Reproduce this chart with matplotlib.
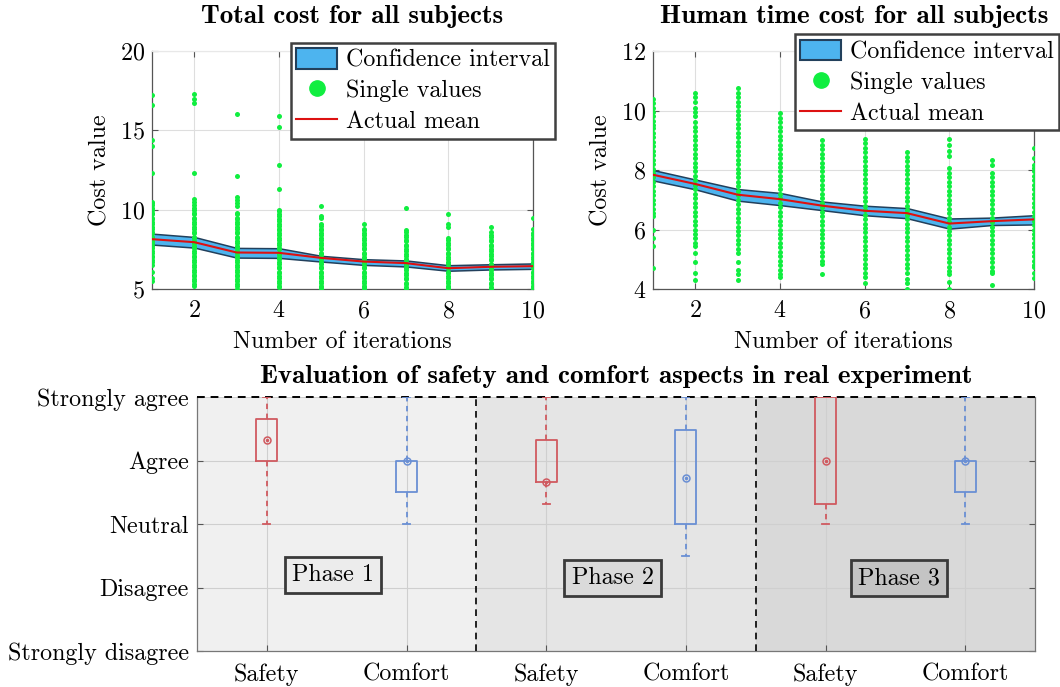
import matplotlib
matplotlib.use("Agg")
import matplotlib.pyplot as plt
from matplotlib.patches import Patch
from matplotlib.lines import Line2D

plt.rcParams['font.family'] = ['cmr10', 'DejaVu Sans']
plt.rcParams['axes.formatter.use_mathtext'] = True
plt.rcParams['mathtext.fontset'] = 'cm'

# ---------------- data ----------------
iterations = [1, 2, 3, 4, 5, 6, 7, 8, 9, 10]

total_mean = [8.14, 7.95, 7.30, 7.28, 6.96, 6.73, 6.63, 6.31, 6.40, 6.44]
total_upper = [8.49, 8.28, 7.59, 7.57, 7.09, 6.88, 6.80, 6.50, 6.56, 6.61]
total_lower = [7.80, 7.61, 6.98, 6.96, 6.73, 6.52, 6.42, 6.15, 6.23, 6.27]

total_values = [
    [17.2, 16.6, 14.4, 14.0, 12.3, 10.5, 10.4, 10.3, 10.1, 10.0, 9.8, 9.7, 9.5, 9.4, 9.2, 9.1, 8.9, 8.8,
     8.6, 8.5, 8.3, 8.2, 8.0, 7.9, 7.7, 7.6, 7.4, 7.3, 7.1, 7.0, 6.8, 6.7, 6.5, 6.1, 5.7, 5.5],
    [17.3, 17.0, 16.7, 12.3, 10.7, 10.5, 10.3, 10.1, 10.0, 9.8, 9.7, 9.5, 9.4, 9.2, 9.1, 8.9, 8.8, 8.6,
     8.5, 8.3, 8.2, 8.0, 7.9, 7.7, 7.6, 7.4, 7.3, 7.1, 7.0, 6.8, 6.7, 6.5, 6.4, 6.2, 6.1, 5.9, 5.8, 5.6,
     5.5, 5.3, 5.2],
    [16.0, 12.1, 10.8, 10.6, 10.4, 10.2, 9.8, 9.7, 9.5, 9.4, 9.2, 9.1, 8.9, 8.8, 8.6, 8.5, 8.3, 8.2, 8.0,
     7.9, 7.7, 7.6, 7.4, 7.3, 7.1, 7.0, 6.8, 6.7, 6.5, 6.4, 6.2, 6.1, 5.9, 5.8, 5.6, 5.5, 5.3, 5.2, 5.0],
    [15.9, 15.2, 12.8, 11.3, 10.0, 9.9, 9.7, 9.6, 9.4, 9.3, 9.1, 9.0, 8.8, 8.7, 8.5, 8.4, 8.2, 8.1, 7.9,
     7.8, 7.6, 7.5, 7.3, 7.2, 7.0, 6.9, 6.7, 6.6, 6.4, 6.3, 6.1, 6.0, 5.8, 5.7, 5.5, 5.4, 5.2, 5.1],
    [10.2, 9.6, 9.5, 9.1, 9.0, 8.8, 8.7, 8.5, 8.4, 8.2, 8.1, 7.9, 7.8, 7.6, 7.5, 7.3, 7.2, 7.0, 6.9, 6.7,
     6.6, 6.4, 6.3, 6.1, 6.0, 5.8, 5.7, 5.5, 5.4, 5.2, 5.1, 5.0],
    [9.1, 8.8, 8.7, 8.5, 8.4, 8.2, 8.1, 7.9, 7.8, 7.6, 7.5, 7.3, 7.2, 7.0, 6.9, 6.7, 6.6, 6.4, 6.3, 6.1,
     6.0, 5.8, 5.7, 5.5, 5.4, 5.2, 5.1, 5.0],
    [10.1, 8.7, 8.6, 8.4, 8.3, 8.1, 8.0, 7.8, 7.7, 7.5, 7.4, 7.2, 7.1, 6.9, 6.8, 6.6, 6.5, 6.3, 6.2, 6.0,
     5.9, 5.7, 5.6, 5.4, 5.3, 5.1, 5.0],
    [9.7, 9.1, 8.9, 8.2, 8.1, 7.9, 7.8, 7.6, 7.5, 7.3, 7.2, 7.0, 6.9, 6.7, 6.6, 6.4, 6.3, 6.1, 6.0, 5.8,
     5.7, 5.5, 5.4, 5.2, 5.1, 5.0],
    [8.9, 8.6, 8.4, 8.3, 8.1, 8.0, 7.8, 7.7, 7.5, 7.4, 7.2, 7.1, 6.9, 6.8, 6.6, 6.5, 6.3, 6.2, 6.0, 5.9,
     5.7, 5.6, 5.4, 5.3, 5.1, 5.0],
    [9.5, 8.8, 8.5, 8.4, 8.2, 8.1, 7.9, 7.8, 7.6, 7.5, 7.3, 7.2, 7.0, 6.9, 6.7, 6.6, 6.4, 6.3, 6.1, 6.0,
     5.8, 5.7, 5.5, 5.4, 5.2, 5.1, 5.0],
]

human_mean = [7.84, 7.53, 7.17, 7.02, 6.80, 6.63, 6.55, 6.20, 6.28, 6.34]
human_upper = [8.00, 7.68, 7.36, 7.23, 6.94, 6.80, 6.72, 6.37, 6.40, 6.48]
human_lower = [7.65, 7.35, 6.97, 6.82, 6.65, 6.48, 6.38, 6.03, 6.15, 6.17]

human_values = [
    [10.4, 10.25, 10.1, 9.95, 9.8, 9.65, 9.5, 9.4, 9.25, 9.1, 8.95, 8.8, 8.65, 8.5, 8.35, 8.2, 8.05, 7.9,
     7.75, 7.6, 7.45, 7.3, 7.15, 7.0, 6.85, 6.7, 6.55, 6.45, 6.0, 5.7, 5.45, 4.7],
    [10.6, 10.45, 10.3, 10.1, 9.95, 9.8, 9.6, 9.45, 9.3, 9.15, 9.0, 8.85, 8.7, 8.55, 8.4, 8.25, 8.1, 7.95,
     7.8, 7.65, 7.5, 7.35, 7.2, 7.05, 6.9, 6.75, 6.6, 6.45, 6.3, 6.15, 6.0, 5.85, 5.7, 5.55, 5.45, 5.2,
     4.9, 4.55, 4.3],
    [10.75, 10.6, 10.45, 10.3, 10.15, 10.0, 9.85, 9.7, 9.55, 9.4, 9.25, 9.1, 8.95, 8.8, 8.65, 8.5, 8.35,
     8.2, 8.05, 7.9, 7.75, 7.6, 7.45, 7.3, 7.15, 7.0, 6.85, 6.7, 6.55, 6.4, 6.25, 6.1, 5.95, 5.8, 5.65,
     5.5, 5.35, 5.2, 4.9, 4.65, 4.5, 4.3],
    [9.9, 9.75, 9.6, 9.45, 9.3, 9.15, 9.0, 8.85, 8.7, 8.55, 8.4, 8.25, 8.1, 7.95, 7.8, 7.65, 7.5, 7.35,
     7.2, 7.05, 6.9, 6.75, 6.6, 6.45, 6.3, 6.15, 6.0, 5.85, 5.7, 5.55, 5.4, 5.25, 5.1, 4.95, 4.8, 4.65,
     4.5, 4.4],
    [9.0, 8.85, 8.7, 8.55, 8.4, 8.25, 8.1, 7.95, 7.8, 7.65, 7.5, 7.35, 7.2, 7.05, 6.9, 6.75, 6.6, 6.45,
     6.3, 6.15, 6.0, 5.85, 5.7, 5.55, 5.4, 5.25, 5.1, 4.95, 4.85, 4.5],
    [9.05, 8.9, 8.75, 8.6, 8.45, 8.3, 8.15, 8.0, 7.85, 7.7, 7.55, 7.4, 7.25, 7.1, 6.95, 6.8, 6.65, 6.5,
     6.35, 6.2, 6.05, 5.9, 5.75, 5.6, 5.45, 5.3, 5.15, 5.0, 4.85, 4.7, 4.55, 4.4, 4.2],
    [8.6, 8.45, 8.3, 8.15, 8.0, 7.85, 7.7, 7.55, 7.4, 7.25, 7.1, 6.95, 6.8, 6.65, 6.5, 6.35, 6.2, 6.05,
     5.9, 5.75, 5.6, 5.45, 5.3, 5.15, 5.0, 4.85, 4.7, 4.55, 4.35, 4.2, 4.0],
    [9.05, 8.85, 8.63, 8.46, 8.07, 7.9, 7.75, 7.6, 7.45, 7.3, 7.15, 7.0, 6.85, 6.7, 6.55, 6.4, 6.25, 6.1,
     5.95, 5.8, 5.65, 5.5, 5.35, 5.2, 5.05, 4.9, 4.75, 4.6, 4.5, 4.25, 4.0],
    [8.35, 8.18, 7.9, 7.75, 7.6, 7.45, 7.3, 7.15, 7.0, 6.85, 6.7, 6.55, 6.4, 6.25, 6.1, 5.95, 5.8, 5.65,
     5.5, 5.35, 5.2, 5.05, 4.9, 4.75, 4.6, 4.53, 4.13],
    [8.74, 8.4, 8.18, 8.07, 7.95, 7.8, 7.65, 7.5, 7.35, 7.2, 7.05, 6.9, 6.75, 6.6, 6.45, 6.3, 6.15, 6.0,
     5.85, 5.7, 5.55, 5.4, 5.25, 5.1, 4.95, 4.8, 4.75, 4.53, 4.36],
]

# Likert box plot data (1 = Strongly disagree ... 5 = Strongly agree)
likert_labels = ["Strongly disagree", "Disagree", "Neutral", "Agree", "Strongly agree"]
box_categories = ["Safety", "Comfort", "Safety", "Comfort", "Safety", "Comfort"]
box_positions = [1, 3, 5, 7, 9, 11]
box_q1 = [4.0, 3.5, 3.66, 3.0, 3.31, 3.5]
box_q3 = [4.65, 4.0, 4.32, 4.48, 5.0, 4.0]
box_med = [4.33, 4.0, 3.66, 3.73, 4.0, 4.0]
box_lo = [3.0, 3.0, 3.31, 2.5, 3.0, 3.0]
box_hi = [5.0, 5.0, 5.0, 5.0, 5.0, 5.0]
phase_names = ["Phase 1", "Phase 2", "Phase 3"]
phase_bounds = [0, 4, 8, 12]

# ---------------- styles ----------------
ci_face = '#4db4ef'
ci_edge = '#22405c'
dot_color = '#10ee40'
mean_color = '#dd1111'
safety_color = '#d05a60'
comfort_color = '#6a8fd4'
phase_bg = ['#f0f0f0', '#e5e5e5', '#d9d9d9']
phase_box = ['#ececec', '#dadada', '#c4c4c4']
spine_color = '#555555'
grid_color = '#dedede'
FS = 17.3
bold = dict(family='cmb10', fontsize=19.5)

fig = plt.figure(figsize=(10.6, 6.87), dpi=100)
W, H = 1060, 687


def px_axes(l, t, r, b):
    return fig.add_axes([l / W, 1 - b / H, (r - l) / W, (b - t) / H])


def style_top(ax):
    ax.grid(True, color=grid_color, lw=0.8)
    ax.set_axisbelow(True)
    ax.tick_params(direction='in', top=True, right=True, length=4, labelsize=FS,
                   color=spine_color)
    ax.tick_params(axis='y', pad=5)
    ax.tick_params(axis='x', pad=8)
    for s in ax.spines.values():
        s.set_color(spine_color)
        s.set_linewidth(0.9)
    ax.spines['top'].set_color('#e8e8e8')


def cost_panel(ax, mean, lower, upper, values, ylim, yticks, title, tx, leg_anchor):
    ax.fill_between(iterations, lower, upper, facecolor=ci_face, edgecolor=ci_edge,
                    lw=1.1, zorder=2)
    for it, vals in zip(iterations, values):
        ax.scatter([it] * len(vals), vals, s=13, color=dot_color, zorder=3, linewidths=0)
    ax.plot(iterations, mean, color=mean_color, lw=1.5, zorder=4)
    ax.set_xlim(1, 10)
    ax.set_ylim(*ylim)
    ax.set_yticks(yticks)
    ax.set_xticks([2, 4, 6, 8, 10])
    ax.set_xlabel("Number of iterations", fontsize=FS, labelpad=6)
    ax.set_ylabel("Cost value", fontsize=FS, labelpad=6)
    style_top(ax)
    handles = [Patch(facecolor=ci_face, edgecolor=ci_edge, lw=1.5),
               Line2D([], [], ls='', marker='o', ms=11, color=dot_color),
               Line2D([], [], color=mean_color, lw=1.5)]
    leg = ax.legend(handles, ["Confidence interval", "Single values", "Actual mean"],
                    loc='upper left', bbox_to_anchor=leg_anchor, fontsize=FS,
                    frameon=True, fancybox=False, framealpha=1, edgecolor='#404040',
                    handlelength=1.7, handleheight=0.95, handletextpad=0.35,
                    labelspacing=0.3, borderpad=0.22, borderaxespad=0)
    leg.get_frame().set_linewidth(1.8)
    leg.set_zorder(10)
    fig.text(tx / W, 1 - 17 / H, title, ha='center', va='center', **bold)


ax1 = px_axes(152, 51, 533, 289)
cost_panel(ax1, total_mean, total_lower, total_upper, total_values, (5, 20), [5, 10, 15, 20],
           "Total cost for all subjects", 352, (0.365, 1.035))

ax2 = px_axes(653, 51, 1034, 289)
cost_panel(ax2, human_mean, human_lower, human_upper, human_values, (4, 12), [4, 6, 8, 10, 12],
           "Human time cost for all subjects", 854, (0.373, 1.07))

# ---------------- bottom box plot ----------------
ax3 = px_axes(197, 397, 1035, 651)
for i in range(3):
    ax3.axvspan(phase_bounds[i], phase_bounds[i + 1], color=phase_bg[i], zorder=0, lw=0)
for xb in phase_bounds[1:-1]:
    ax3.axvline(xb, color='black', ls=(0, (4, 3)), lw=1.2, zorder=3)
ax3.axhline(5, color='black', ls=(0, (4, 3)), lw=1.4, zorder=3, clip_on=False)

stats = []
for q1, q3, med, lo, hi in zip(box_q1, box_q3, box_med, box_lo, box_hi):
    stats.append(dict(q1=q1, q3=q3, med=med, whislo=lo, whishi=hi, fliers=[]))

colors = [safety_color if c == "Safety" else comfort_color for c in box_categories]
for st, pos, col in zip(stats, box_positions, colors):
    ax3.bxp([st], positions=[pos], widths=0.3, capwidths=0.1, showfliers=False,
            boxprops=dict(color=col, lw=1.3),
            whiskerprops=dict(color=col, lw=1.3, ls=(0, (3, 2.5))),
            capprops=dict(color=col, lw=1.3),
            medianprops=dict(visible=False),
            manage_ticks=False, zorder=4)
    ax3.plot([pos], [st['med']], marker='o', ms=5, mfc='none', mec=col, mew=1.1, zorder=5)
    ax3.plot([pos], [st['med']], marker='o', ms=1.5, color=col, zorder=5)

ax3.set_xlim(phase_bounds[0], phase_bounds[-1])
ax3.set_ylim(1, 5)
ax3.set_yticks([1, 2, 3, 4, 5])
ax3.set_yticklabels(likert_labels)
ax3.set_xticks(box_positions)
ax3.set_xticklabels(box_categories)
ax3.grid(True, color='#cfcfcf', lw=0.8, zorder=0.5)
ax3.set_axisbelow(True)
ax3.tick_params(direction='in', right=True, length=4, labelsize=FS, color=spine_color)
ax3.tick_params(axis='y', pad=6)
ax3.tick_params(axis='x', pad=9)
for s in ax3.spines.values():
    s.set_color('#777777')
    s.set_linewidth(0.9)
ax3.spines['top'].set_visible(False)

label_x = [1.95, 5.95, 10.05]
label_y = [2.2, 2.15, 2.15]
for name, lx, ly, fc in zip(phase_names, label_x, label_y, phase_box):
    ax3.text(lx, ly, name, ha='center', va='center', fontsize=FS, zorder=6,
             bbox=dict(boxstyle='square,pad=0.3', facecolor=fc, edgecolor='#3a3a3a', lw=2))

fig.text(616 / W, 1 - 377 / H, "Evaluation of safety and comfort aspects in real experiment",
         ha='center', va='center', **bold)

fig.savefig("out.png", dpi=100, facecolor='white')
